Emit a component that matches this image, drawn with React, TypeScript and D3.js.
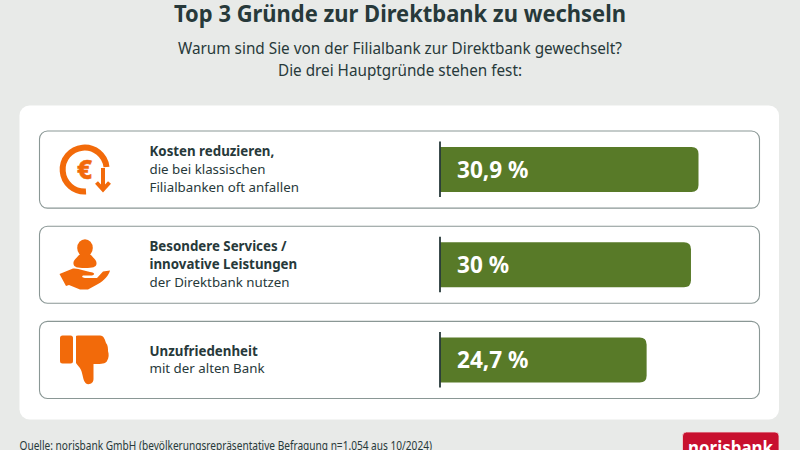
import React from "react";
import * as d3 from "d3";

const titleText = "Top 3 Gründe zur Direktbank zu wechseln";
const subtitleLines = ["Warum sind Sie von der Filialbank zur Direktbank gewechselt?", "Die drei Hauptgründe stehen fest:"];
const subtitleWidths = [444, 244];
const categories = ["kosten", "services", "unzufrieden"];
const values = [30.9, 30, 24.7];
const valueLabels = ["30,9 %", "30 %", "24,7 %"];
const labelLines = [
  [{ t: "Kosten reduzieren,", b: true }, { t: "die bei klassischen", b: false }, { t: "Filialbanken oft anfallen", b: false }],
  [{ t: "Besondere Services /", b: true }, { t: "innovative Leistungen", b: true }, { t: "der Direktbank nutzen", b: false }],
  [{ t: "Unzufriedenheit", b: true }, { t: "mit der alten Bank", b: false }],
];
const sourceText = "Quelle: norisbank GmbH (bevölkerungsrepräsentative Befragung n=1.054 aus 10/2024)";
const logoText = "norisbank";

const FONT = "'Noto Sans', 'Open Sans', sans-serif";
const ORANGE = "#f26a0a";
const GREEN = "#587a28";
const INK = "#27393a";

function EuroIcon() {
  return (
    <g>
      <path d="M106.500,167 A22,22 0 1 0 86,191.500" fill="none" stroke={ORANGE} strokeWidth={6} />
      <path d="M103,168 V189" stroke={ORANGE} strokeWidth={4} fill="none" />
      <path d="M96.500,182.500 L103,189.500 L109.500,182.500" stroke={ORANGE} strokeWidth={4} fill="none" />
      <text x={84.5} y={178.500} textAnchor="middle" fontFamily={FONT} fontWeight={800} fontSize={26} stroke={ORANGE} strokeWidth={0.6} fill={ORANGE}>€</text>
    </g>
  );
}
function PersonIcon() {
  return (
    <g fill={ORANGE}>
      <ellipse cx={85} cy={248} rx={7.8} ry={8.8} />
      <path d="M79,255 C76,259 73,260 73.500,264 C74,267 77,268 85,268 C93,268 96,267 96.500,264 C97,260 94,259 91,255 Z" />
      <path d="M59.500,274 L73,268.500 C79,268 84,271 90,272 C94,272.500 96,274 92,275.500 L83,275.500 C81,277 83,278 86,278 L97,278 L103,271.500 L110,270.500 C109,275 104,281 98,284 L88,289.500 L80,289.500 L69,285 L66,286 Z" />
    </g>
  );
}
function ThumbIcon() {
  return (
    <g fill={ORANGE}>
      <rect x={60} y={335.500} width={13} height={28} rx={2.5} />
      <path d="M76,336 Q76,335.500 78,335.500 L100,335.500 C104,335.500 105,340 106,343 C108,345 108,349 108,351 C109,354 109,358 107,361 C106,363 104,364 97,364 L93.500,364 L93.500,379 C93.500,384 88,385.500 85.500,383 C83,380 83,375 81,370 C80,367 77,365 76,363 Z" />
    </g>
  );
}
const icons = [EuroIcon, PersonIcon, ThumbIcon];

export default function App() {
  const x = d3.scaleLinear().domain([0, 30.9]).range([440, 698.5]);
  const band = d3.scaleBand().domain(categories).range([131, 398.5]).paddingInner(0.19);
  const h = band.bandwidth();
  const barPad = 16;
  const lineHeight = 17.8;
  const r = 7;
  return (
    <svg width={800} height={450} viewBox="0 0 800 450" style={{ position: "fixed", left: 0, top: 0, display: "block" }}>
      <rect width={800} height={450} fill="#e8eae8" />
      <text x={400} y={21.5} textAnchor="middle" fontFamily={FONT} fontWeight={700} fontSize={24} fill={INK} textLength={452} lengthAdjust="spacingAndGlyphs">{titleText}</text>
      {subtitleLines.map((s, i) => (
        <text key={i} x={400} y={54 + i * 21.5} textAnchor="middle" fontFamily={FONT} fontSize={16.2} fill={INK} textLength={subtitleWidths[i]} lengthAdjust="spacingAndGlyphs">{s}</text>
      ))}
      <rect x={19.500} y={105.500} width={759.500} height={314} rx={10} fill="#ffffff" />
      {categories.map((c, i) => {
        const y0 = band(c)!;
        const Icon = icons[i];
        const lines = labelLines[i];
        const cy = y0 + h / 2;
        const startY = cy - ((lines.length - 1) * lineHeight) / 2 + 4.5;
        const xv = x(values[i]);
        return (
          <g key={c}>
            <rect x={39.500} y={y0} width={720} height={h} rx={8} fill="#fff" stroke="#8a9795" strokeWidth={1.1} />
            <Icon />
            {lines.map((l, j) => (
              <text key={j} x={149.500} y={startY + j * lineHeight} fontFamily={FONT} fontSize={13.3} fontWeight={l.b ? 700 : 400} fill={INK}>{l.t}</text>
            ))}
            <path
              d={`M${x(0)},${y0 + barPad} H${xv - r} Q${xv},${y0 + barPad} ${xv},${y0 + barPad + r} V${y0 + h - barPad - r} Q${xv},${y0 + h - barPad} ${xv - r},${y0 + h - barPad} H${x(0)} Z`}
              fill={GREEN}
            />
            <line x1={x(0)} x2={x(0)} y1={y0 + 10.5} y2={y0 + h - 11} stroke={INK} strokeWidth={1.8} />
            <text x={457} y={cy + 8} fontFamily={FONT} fontWeight={700} fontSize={22.5} fill="#ffffff" textLength={valueLabels[i].length > 4 ? 71.5 : 52} lengthAdjust="spacingAndGlyphs">{valueLabels[i]}</text>
          </g>
        );
      })}
      <text x={19.500} y={450} fontFamily={FONT} fontSize={11.8} fill={INK} textLength={412.5} lengthAdjust="spacingAndGlyphs">{sourceText}</text>
      <rect x={682.500} y={432} width={96.500} height={30} rx={4} fill="#c8102e" stroke="#f3dfe0" strokeWidth={0.8} />
      <text x={730.500} y={453.500} textAnchor="middle" fontFamily={FONT} fontWeight={700} fontSize={17.5} fill="#ffffff" textLength={85} lengthAdjust="spacingAndGlyphs">{logoText}</text>
    </svg>
  );
}
